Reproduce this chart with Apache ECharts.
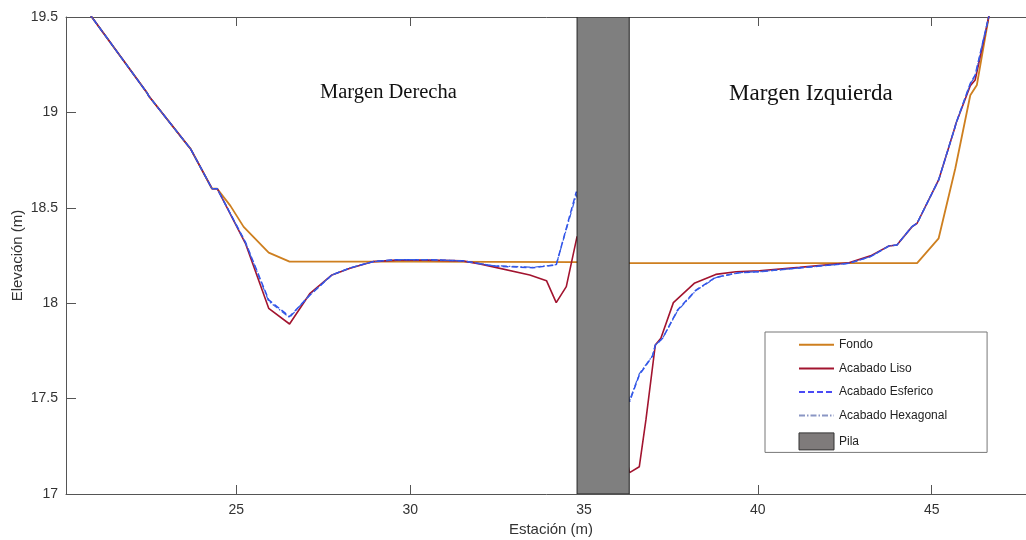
<!DOCTYPE html>
<html><head><meta charset="utf-8">
<script src="https://cdn.jsdelivr.net/npm/echarts@6/dist/echarts.min.js"></script>
<style>html,body{margin:0;padding:0;background:#fff}#c{width:1026px;height:540px}</style>
</head><body><div id="c"></div>
<script>
const xTicks = [25, 30, 35, 40, 45];
const yTicks = [17, 17.5, 18, 18.5, 19, 19.5];
const pila = [34.8, 36.3];

const fondoX = [20.44, 20.84, 22.44, 22.48, 23.59, 23.68, 24.30, 24.45, 24.83, 25.21, 25.93, 26.53, 30.0, 34.8, 36.3, 40.0, 44.58, 45.2, 45.68, 45.73, 46.11, 46.30, 46.64, 46.8];
const fondoY = [19.6, 19.5, 19.10, 19.086, 18.83, 18.81, 18.60, 18.60, 18.51, 18.40, 18.265, 18.218, 18.218, 18.215, 18.21, 18.21, 18.21, 18.34, 18.707, 18.715, 19.09, 19.144, 19.5, 19.65];

const lisoX = [20.44, 20.84, 22.44, 22.48, 23.59, 23.68, 24.30, 24.45, 25.26, 25.93, 26.53, 27.12, 27.75, 28.27, 28.94, 29.61, 30.5, 31.5, 32.0, 33.44, 33.92, 34.20, 34.49, 34.80,
  36.31, 36.59, 36.78, 37.05, 37.21, 37.57, 38.17, 38.79, 39.37, 40.04, 41.2, 42.62, 43.24, 43.77, 44.0, 44.43, 44.58, 45.2, 45.66, 45.70, 46.11, 46.25, 46.64, 46.8];
const lisoY = [19.6, 19.5, 19.10, 19.086, 18.83, 18.81, 18.60, 18.60, 18.314, 17.973, 17.891, 18.052, 18.148, 18.183, 18.218, 18.226, 18.226, 18.222, 18.206, 18.148, 18.118, 18.003, 18.087, 18.35,
  17.112, 17.143, 17.388, 17.781, 17.816, 18.003, 18.104, 18.151, 18.165, 18.170, 18.188, 18.212, 18.248, 18.30, 18.305, 18.40, 18.419, 18.646, 18.917, 18.943, 19.14, 19.17, 19.5, 19.6];

const esfericoX = [20.44, 20.84, 22.44, 22.48, 23.59, 23.68, 24.30, 24.45, 25.26, 25.93, 26.53, 27.12, 27.75, 28.27, 28.94, 29.61, 30.5, 31.5, 32.38, 33.52, 34.20, 34.78,
  36.31, 36.59, 36.97, 37.05, 37.26, 37.69, 38.22, 38.79, 39.46, 40.04, 41.2, 42.62, 43.24, 43.77, 44.0, 44.43, 44.58, 45.2, 45.66, 45.70, 46.11, 46.25, 46.64, 46.75];
const esfericoY = [19.6, 19.5, 19.10, 19.086, 18.83, 18.81, 18.60, 18.60, 18.32, 18.017, 17.93, 18.043, 18.148, 18.185, 18.218, 18.228, 18.228, 18.222, 18.195, 18.186, 18.20, 18.585,
  17.484, 17.624, 17.723, 17.78, 17.816, 17.964, 18.069, 18.136, 18.16, 18.165, 18.185, 18.209, 18.244, 18.30, 18.305, 18.401, 18.419, 18.646, 18.917, 18.943, 19.152, 19.196, 19.5, 19.6];

const hexagonalX = [20.44, 20.84, 22.44, 22.48, 23.59, 23.68, 24.30, 24.45, 25.26, 25.93, 26.53, 27.12, 27.75, 28.27, 28.94, 29.61, 30.5, 31.5, 32.38, 33.52, 34.20, 34.78,
  36.31, 36.59, 36.97, 37.05, 37.26, 37.69, 38.22, 38.79, 39.46, 40.04, 41.2, 42.62, 43.24, 43.77, 44.0, 44.43, 44.58, 45.2, 45.66, 45.70, 46.11, 46.25, 46.64, 46.75];
const hexagonalY = [19.6, 19.5, 19.10, 19.086, 18.83, 18.81, 18.60, 18.60, 18.318, 18.010, 17.925, 18.045, 18.148, 18.185, 18.218, 18.228, 18.228, 18.222, 18.197, 18.188, 18.202, 18.57,
  17.49, 17.63, 17.725, 17.78, 17.816, 17.96, 18.066, 18.134, 18.16, 18.165, 18.185, 18.209, 18.244, 18.30, 18.305, 18.401, 18.419, 18.646, 18.917, 18.943, 19.15, 19.19, 19.5, 19.6];

const zip = (xs, ys) => xs.map((x, i) => [x, ys[i]]);

const chart = echarts.init(document.getElementById('c'), null, {renderer: 'canvas'});
const axisCol = '#555';
const labelStyle = {color: '#333', fontFamily: 'Liberation Sans', fontSize: 14};
const nameStyle = {color: '#333', fontFamily: 'Liberation Sans', fontSize: 15};
const hideSym = {opacity: 0};

chart.setOption({
  animation: false,
  backgroundColor: '#fff',
  grid: {left: 66, top: 17, width: 970, height: 477, containLabel: false, outerBoundsMode: 'none'},
  xAxis: [{
    type: 'value', min: 20.1, max: 48, position: 'bottom',
    name: 'Estación (m)', nameLocation: 'middle', nameGap: 25, nameTextStyle: nameStyle,
    axisLine: {show: true, lineStyle: {color: axisCol, width: 1}},
    axisTick: {show: true, inside: true, length: 9, customValues: xTicks, lineStyle: {color: axisCol}},
    axisLabel: {show: true, margin: 9, customValues: xTicks, ...labelStyle},
    splitLine: {show: false}
  }, {
    type: 'value', min: 20.1, max: 48, position: 'top',
    axisLine: {show: true, onZero: false, lineStyle: {color: axisCol, width: 1}},
    axisTick: {show: true, inside: true, length: 9, customValues: xTicks, lineStyle: {color: axisCol}},
    axisLabel: {show: false},
    splitLine: {show: false}
  }],
  yAxis: [{
    type: 'value', min: 17, max: 19.5, interval: 0.5, position: 'left',
    name: 'Elevación (m)', nameLocation: 'middle', nameGap: 41, nameRotate: 90, nameMoveOverlap: false,
    nameTextStyle: nameStyle,
    axisLine: {show: true, lineStyle: {color: axisCol, width: 1}},
    axisTick: {show: true, inside: true, length: 10, lineStyle: {color: axisCol}},
    axisLabel: {show: true, margin: 8, ...labelStyle},
    splitLine: {show: false}
  }, {
    type: 'value', min: 17, max: 19.5, interval: 0.5, position: 'right',
    axisLine: {show: true, onZero: false, lineStyle: {color: axisCol, width: 1}},
    axisTick: {show: true, inside: true, length: 10, lineStyle: {color: axisCol}},
    axisLabel: {show: false},
    splitLine: {show: false}
  }],
  legend: {
    orient: 'vertical', left: 765, top: 332,
    padding: [6, 40, 2, 33], itemGap: 10, itemWidth: 35, itemHeight: 17,
    backgroundColor: '#fff', borderColor: '#777', borderWidth: 1,
    textStyle: {color: '#222', fontFamily: 'Liberation Sans', fontSize: 12},
    data: [
      {name: 'Fondo', itemStyle: hideSym},
      {name: 'Acabado Liso', itemStyle: hideSym},
      {name: 'Acabado Esferico', itemStyle: hideSym, lineStyle: {color: '#4a4af5'}},
      {name: 'Acabado Hexagonal', itemStyle: hideSym, lineStyle: {color: '#8a96c4'}},
      {name: 'Pila', icon: 'rect', itemStyle: {color: '#7f7b7b', borderColor: '#333', borderWidth: 1}}
    ]
  },
  graphic: [
    {type: 'text', left: 320, top: 82, style: {text: 'Margen Derecha', fill: '#111', font: '20.5px "Liberation Serif"'}},
    {type: 'text', left: 729, top: 82, style: {text: 'Margen Izquierda', fill: '#111', font: '23px "Liberation Serif"'}}
  ],
  series: [
    {name: 'Fondo', type: 'line', data: zip(fondoX, fondoY), symbol: 'none', clip: true, z: 2,
     lineStyle: {color: '#CE7F1F', width: 1.8}, itemStyle: {color: '#CE7F1F'}},
    {name: 'Acabado Liso', type: 'line', data: zip(lisoX, lisoY), symbol: 'none', clip: true, z: 3,
     lineStyle: {color: '#A2142F', width: 1.6}, itemStyle: {color: '#A2142F'}},
    {name: 'Acabado Esferico', type: 'line', data: zip(esfericoX, esfericoY), symbol: 'none', clip: true, z: 4,
     lineStyle: {color: '#2a4df0', width: 1.5, type: [6, 3]}, itemStyle: {color: '#2a4df0'}},
    {name: 'Acabado Hexagonal', type: 'line', data: zip(hexagonalX, hexagonalY), symbol: 'none', clip: true, z: 5,
     lineStyle: {color: '#3a5fe0', width: 1.2, type: [6, 2, 1.5, 2]}, itemStyle: {color: '#8a96c4'}},
    {name: 'Pila', type: 'custom', z: 6, clip: true,
     data: [[pila[0], pila[1]]],
     itemStyle: {color: '#7f7b7b'},
     renderItem: function (params, api) {
       const p0 = api.coord([api.value(0), yTicks[yTicks.length - 1]]);
       const p1 = api.coord([api.value(1), yTicks[0]]);
       return {type: 'rect', shape: {x: p0[0], y: p0[1], width: p1[0] - p0[0], height: p1[1] - p0[1]},
               style: {fill: '#7f7f7f', stroke: '#222', lineWidth: 1}};
     }}
  ]
});
</script>
</body></html>
